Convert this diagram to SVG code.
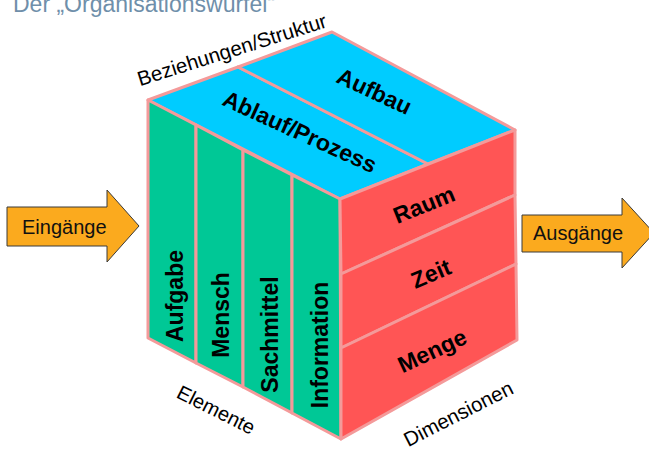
<svg xmlns="http://www.w3.org/2000/svg" width="649" height="452" viewBox="0 0 649 452">
<style>
.face{stroke:#F49A9A;stroke-width:3;stroke-linejoin:round}
.g{fill:#00C896}
.b{fill:#00CCFF}
.r{fill:#FF5555}
.lbl{font-family:"Liberation Sans",Arial,sans-serif;font-weight:bold;font-size:23px;fill:#000;text-anchor:middle}
.cap{font-family:"Liberation Sans",Arial,sans-serif;font-size:20px;fill:#000;text-anchor:middle}
.arrow{fill:#FBAA1E;stroke:#3A3A3A;stroke-width:1}
.at{font-family:"Liberation Sans",Arial,sans-serif;font-size:20px;fill:#111}
</style>
<rect width="649" height="452" fill="#fff"/>
<text x="13" y="12" style="font-family:'Liberation Sans',Arial,sans-serif;font-size:23px;fill:#6F8FAA">Der „Organisationswürfel“</text>

<g id="top-face">
  <g id="ablauf">
    <polygon class="face b" points="148,100 238,67 428,164 340,199"/>
    <text class="lbl" transform="translate(296.5,139) rotate(24.5)">Ablauf/Prozess</text>
  </g>
  <g id="aufbau">
    <polygon class="face b" points="238,67 332,32 515,130 428,164"/>
    <text class="lbl" transform="translate(371,98.5) rotate(25)">Aufbau</text>
  </g>
</g>

<g id="front-face">
  <g id="aufgabe">
    <polygon class="face g" points="148,100 196,125 196,363 148,338"/>
    <text class="lbl" transform="translate(182.5,296) rotate(-90)">Aufgabe</text>
  </g>
  <g id="mensch">
    <polygon class="face g" points="196,125 243,150 243,387 196,363"/>
    <text class="lbl" transform="translate(229,315) rotate(-90)">Mensch</text>
  </g>
  <g id="sachmittel">
    <polygon class="face g" points="243,150 292,175 292,413 243,387"/>
    <text class="lbl" transform="translate(278,334.5) rotate(-90)">Sachmittel</text>
  </g>
  <g id="information">
    <polygon class="face g" points="292,175 340,199 341,439 292,413"/>
    <text class="lbl" transform="translate(328,345) rotate(-90)">Information</text>
  </g>
</g>

<g id="right-face">
  <g id="raum">
    <polygon class="face r" points="340,199 515,130 515,195 341,274"/>
    <text class="lbl" transform="translate(427,212) rotate(-22)">Raum</text>
  </g>
  <g id="zeit">
    <polygon class="face r" points="341,274 515,195 516,264 341,348"/>
    <text class="lbl" transform="translate(434,281) rotate(-23)">Zeit</text>
  </g>
  <g id="menge">
    <polygon class="face r" points="341,348 516,264 517,340 341,439"/>
    <text class="lbl" transform="translate(435.5,358) rotate(-25)">Menge</text>
  </g>
</g>

<g id="captions">
  <text class="cap" style="font-size:20.5px" transform="translate(234,56.5) rotate(-17.5)">Beziehungen/Struktur</text>
  <text class="cap" transform="translate(213,416) rotate(26.6)">Elemente</text>
  <text class="cap" style="font-size:20.5px" transform="translate(461.5,420) rotate(-27)">Dimensionen</text>
</g>

<g id="connectors">
  <g id="eingaenge">
    <polygon class="arrow" points="7,207 107,207 107,190 139,226 107,262 107,246 7,246"/>
    <text class="at" x="22" y="234">Eingänge</text>
  </g>
  <g id="ausgaenge">
    <polygon class="arrow" points="522,215 622,215 622,198 654,233 622,268 622,252 522,252"/>
    <text class="at" x="533" y="240">Ausgänge</text>
  </g>
</g>
</svg>
